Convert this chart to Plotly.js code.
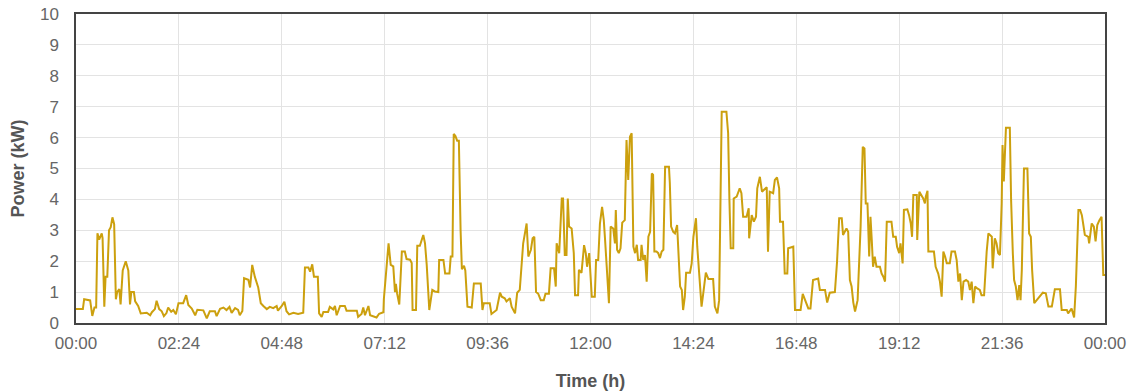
<!DOCTYPE html>
<html>
<head>
<meta charset="utf-8">
<script src="https://cdn.plot.ly/plotly-3.0.1.min.js"></script>
<style>html,body{margin:0;padding:0;background:#fff;}#chart{width:1133px;height:392px;}</style>
</head>
<body>
<div id="chart"></div>
<script>
// Time of day in hours (0 = 00:00, 24 = next 00:00)
const hours = [
0.00,0.16,0.19,0.33,0.38,0.43,0.47,0.50,0.54,0.60,0.62,0.66,0.69,0.73,0.77,0.81,0.85,0.89,0.93,0.96,
1.01,1.04,1.09,1.16,1.22,1.26,1.29,1.35,1.38,1.45,1.51,1.65,1.73,1.77,1.84,1.88,1.94,2.00,2.05,2.11,
2.15,2.22,2.27,2.33,2.39,2.50,2.57,2.62,2.70,2.78,2.83,2.97,3.05,3.12,3.24,3.28,3.36,3.44,3.51,3.58,
3.63,3.71,3.78,3.82,3.88,3.92,4.02,4.06,4.11,4.17,
4.25,4.31,4.37,4.45,4.52,4.60,4.68,4.71,4.80,4.86,4.91,4.97,5.07,5.18,5.30,5.34,5.42,5.46,5.51,5.55,
5.64,5.67,5.73,5.77,5.88,5.92,6.00,6.04,6.08,6.16,6.27,6.31,6.55,6.58,6.66,6.70,6.74,6.82,6.86,6.93,
7.01,7.07,7.17,7.18,7.25,7.29,7.34,7.40,7.44,7.46,7.49,7.54,7.60,7.67,7.71,7.79,7.83,7.85,7.93,7.96,
8.02,8.06,8.10,8.14,8.18,8.24,
8.31,8.37,8.45,8.47,8.57,8.61,8.71,8.74,8.78,8.81,8.85,8.89,8.93,8.97,9.00,9.05,9.08,9.13,9.23,9.28,
9.44,9.48,9.51,9.65,9.69,9.81,9.89,9.93,10.00,10.04,10.12,10.16,10.24,10.29,10.35,10.43,10.51,10.55,10.61,10.65,
10.69,10.73,10.78,10.84,10.91,10.95,11.03,11.07,11.15,11.19,11.21,11.27,11.33,11.36,11.40,11.44,11.47,11.50,11.56,11.61,
11.64,11.71,11.73,11.79,11.85,11.89,11.92,11.97,12.03,12.10,12.13,12.18,12.22,12.27,12.31,12.34,12.39,12.43,12.47,12.53,
12.57,12.59,12.62,
12.66,12.70,12.74,12.80,12.84,12.88,12.92,12.96,13.00,13.04,13.08,13.11,13.17,13.19,13.23,13.27,13.31,13.35,13.39,13.43,
13.46,13.49,13.54,13.58,13.62,13.66,13.70,13.74,13.83,13.85,13.88,13.93,13.97,14.02,14.05,14.09,14.13,14.16,14.20,14.23,
14.32,14.36,14.40,14.46,14.49,14.54,14.59,14.63,14.69,14.75,14.86,14.90,14.96,15.00,15.04,15.06,15.17,15.21,15.24,15.27,
15.33,15.34,15.41,15.48,15.52,15.56,15.64,15.69,15.70,15.76,15.81,15.86,15.89,15.95,16.00,16.07,16.11,16.14,16.18,16.26,
16.30,16.35,16.40,16.42,16.49,
16.53,16.59,16.61,16.73,16.77,16.90,16.95,17.00,17.08,17.13,17.19,17.31,17.35,17.47,17.52,17.58,17.70,17.75,17.80,17.86,
17.89,17.97,18.01,18.05,18.09,18.13,18.17,18.23,18.27,18.30,18.35,18.39,18.42,18.46,18.50,18.53,18.56,18.59,18.63,18.67,
18.75,18.79,18.83,18.87,18.91,19.02,19.06,19.12,19.15,19.20,19.23,19.28,19.31,19.39,19.43,19.47,19.50,19.53,19.61,19.62,
19.67,19.72,19.76,19.80,19.82,19.86,19.88,20.01,20.05,20.11,20.15,20.19,20.23,20.27,20.31,20.38,20.42,20.50,20.54,20.58,
20.62,20.66,20.70,20.76,20.81,20.85,20.89,20.93,20.97,21.02,21.08,21.12,21.18,21.24,21.28,21.36,21.38,21.43,21.47,21.51,
21.55,21.59,21.61,21.64,21.67,21.69,21.78,21.81,21.85,21.88,21.92,21.96,22.00,22.03,22.06,22.11,22.19,22.23,22.27,22.30,
22.35,22.41,22.48,22.55,22.62,22.68,22.76,22.83,22.95,22.99,23.11,23.14,23.22,23.28,23.32,23.38,23.42,23.46,23.49,23.53,
23.61,23.63,23.69,23.74,23.78,23.82,23.87,23.92,23.96,24.00
];

// Power in kW
const powerKW = [
0.45,0.45,0.77,0.73,0.23,0.50,0.50,2.90,2.70,2.90,2.75,0.53,1.50,1.50,3.00,3.10,3.42,3.20,0.77,1.00,
1.10,0.60,1.70,2.00,1.70,0.60,1.00,1.00,0.70,0.55,0.31,0.33,0.25,0.35,0.45,0.72,0.45,0.38,0.22,0.32,
0.50,0.36,0.42,0.28,0.64,0.64,0.90,0.58,0.47,0.25,0.43,0.41,0.15,0.38,0.38,0.22,0.46,0.50,0.42,0.52,
0.33,0.48,0.42,0.25,0.39,1.45,1.40,1.15,1.88,1.50,
1.15,0.64,0.55,0.45,0.52,0.48,0.55,0.40,0.55,0.69,0.38,0.28,0.33,0.29,0.33,1.80,1.80,1.66,1.90,1.50,
1.50,0.31,0.20,0.36,0.36,0.52,0.44,0.55,0.25,0.55,0.55,0.40,0.40,0.20,0.29,0.50,0.25,0.55,0.25,0.22,
0.18,0.30,0.35,0.77,1.77,2.58,1.88,1.83,1.00,1.27,0.95,0.60,2.31,2.31,2.07,2.05,1.94,0.42,0.42,2.50,
2.50,2.70,2.85,2.58,1.88,0.42,
1.07,1.02,1.00,2.04,2.04,1.60,1.60,2.15,2.15,6.12,6.05,5.90,5.90,3.00,1.74,1.85,1.70,0.53,0.50,1.28,
1.28,0.42,0.64,0.64,0.29,0.42,0.98,0.85,0.80,0.70,0.80,0.53,0.31,0.98,1.07,2.58,3.22,2.15,2.37,2.74,
2.79,1.00,0.95,0.74,0.74,0.95,0.95,1.77,1.77,1.18,2.58,2.26,4.03,4.03,2.20,2.20,4.03,3.12,3.06,2.26,
0.90,0.90,1.72,1.62,2.52,2.26,1.82,2.26,0.85,0.85,2.04,2.04,3.22,3.76,3.33,2.69,1.28,0.64,3.12,3.06,
2.58,3.66,2.37,
2.26,2.42,3.25,3.33,5.92,4.63,6.03,6.14,2.47,2.26,2.53,2.04,2.04,2.53,2.04,2.20,1.34,2.79,2.95,4.84,
4.79,2.31,2.31,2.26,2.10,2.31,2.37,5.06,5.06,4.53,3.12,2.95,2.90,3.17,2.47,1.18,1.07,0.42,0.85,1.63,
1.63,1.93,2.79,3.39,2.47,1.60,0.53,0.96,1.63,1.42,1.42,0.53,0.31,0.74,5.27,6.84,6.84,6.14,3.98,2.42,
2.42,4.03,4.09,4.36,4.20,3.44,3.44,3.71,2.74,3.49,3.28,3.44,4.36,4.73,4.25,4.36,4.39,2.31,4.25,4.20,
4.63,4.71,4.36,3.28,3.28,
1.60,1.60,2.42,2.47,0.42,0.42,0.94,0.74,0.47,0.47,1.39,1.44,1.07,1.07,0.66,0.98,1.00,1.98,3.39,3.39,
2.85,3.06,2.95,1.39,1.18,0.66,0.37,0.74,2.04,3.12,5.70,5.65,3.87,3.87,2.15,3.44,2.69,1.82,2.15,1.82,
1.82,1.60,1.50,1.34,3.28,3.28,2.79,2.79,2.47,2.26,2.58,1.93,3.66,3.68,3.49,3.22,2.79,4.14,4.14,2.69,
4.25,4.14,4.03,3.87,4.09,4.28,2.31,2.31,1.82,1.60,1.34,0.85,2.31,2.15,1.93,1.93,2.31,2.31,2.04,1.34,
1.60,0.74,1.34,1.39,1.34,1.07,1.34,0.64,1.18,1.12,1.07,0.90,0.90,2.31,2.90,2.79,1.77,2.74,2.58,2.26,
2.20,3.87,5.76,4.58,5.60,6.32,6.32,3.98,2.26,1.39,1.18,0.74,1.23,0.74,1.72,5.00,5.00,2.90,2.79,1.72,
0.64,0.74,0.85,0.98,0.96,0.53,0.53,1.09,1.09,0.42,0.42,0.31,0.47,0.18,1.18,3.66,3.66,3.49,3.22,2.85,
2.79,2.58,3.22,3.12,2.64,3.17,3.33,3.44,1.55,1.55
];

// X axis tick positions (hours) and labels
const tickHours = [0, 2.4, 4.8, 7.2, 9.6, 12, 14.4, 16.8, 19.2, 21.6, 24];
const tickLabels = ["00:00","02:24","04:48","07:12","09:36","12:00","14:24","16:48","19:12","21:36","00:00"];

const trace = {
  x: hours,
  y: powerKW,
  type: 'scatter',
  mode: 'lines',
  line: {color: '#CCA00E', width: 2},
  hoverinfo: 'x+y'
};

const fontFam = 'Liberation Sans, Arial, sans-serif';

const layout = {
  width: 1133,
  height: 392,
  margin: {l: 76, r: 28, t: 14, b: 69},
  paper_bgcolor: '#ffffff',
  plot_bgcolor: '#ffffff',
  showlegend: false,
  font: {family: fontFam, color: '#666666', size: 17},
  xaxis: {
    range: [0, 24],
    tickmode: 'array',
    tickvals: tickHours,
    ticktext: tickLabels,
    showgrid: true,
    gridcolor: '#e3e3e3',
    gridwidth: 1,
    zeroline: false,
    showline: true,
    linecolor: '#444444',
    linewidth: 1.5,
    mirror: true,
    ticks: '',
    ticklabelstandoff: 4,
    tickfont: {family: fontFam, size: 17, color: '#666666'},
    title: {text: 'Time (h)', font: {family: fontFam, size: 18, color: '#555555', weight: 'bold'}, standoff: 22}
  },
  yaxis: {
    range: [0, 10],
    dtick: 1,
    tick0: 0,
    showgrid: true,
    gridcolor: '#e3e3e3',
    gridwidth: 1,
    zeroline: false,
    showline: true,
    linecolor: '#444444',
    linewidth: 1.5,
    mirror: true,
    ticks: '',
    ticklabelstandoff: 12,
    tickfont: {family: fontFam, size: 17, color: '#666666'},
    title: {text: 'Power (kW)', font: {family: fontFam, size: 18, color: '#555555', weight: 'bold'}, standoff: 11}
  }
};

Plotly.newPlot('chart', [trace], layout, {displayModeBar: false, responsive: false});
</script>
</body>
</html>
